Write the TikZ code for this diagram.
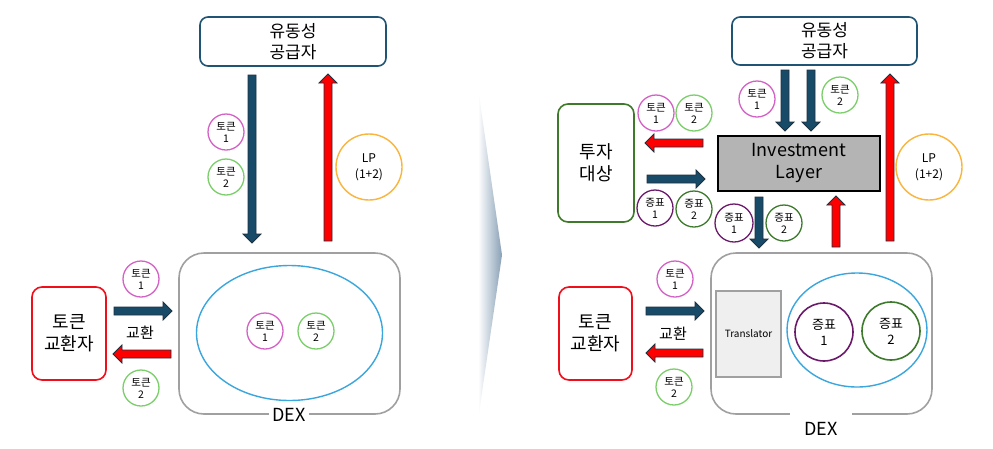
\documentclass[tikz,border=0pt]{standalone}
\usepackage{fontspec}
\setmainfont{Noto Sans CJK KR}
\usetikzlibrary{calc,shapes.geometric}
\definecolor{navy}{HTML}{1F5474}
\definecolor{arrowblue}{HTML}{184B68}
\definecolor{arrowedge}{HTML}{1E3140}
\definecolor{tokone}{HTML}{D462C6}
\definecolor{toktwo}{HTML}{7BCF6A}
\definecolor{lporange}{HTML}{F9B53C}
\definecolor{dexgrey}{HTML}{A0A0A0}
\definecolor{ellblue}{HTML}{3AA6DD}
\definecolor{exred}{HTML}{F20D1A}
\definecolor{invgreen}{HTML}{3F7A2B}
\definecolor{jpone}{HTML}{6B1A6B}
\definecolor{jptwo}{HTML}{3D7A2C}
\definecolor{layergrey}{HTML}{B4B4B4}
\definecolor{transgrey}{HTML}{EFEFEF}
\definecolor{sepblue}{HTML}{88A0B6}
\newcommand\blockarrow[3]{%
  \coordinate (ba-h) at ($(#3)!9pt!(#2)$);
  \filldraw[#1] ($(#2)!4pt!90:(#3)$) -- ($(ba-h)!4pt!90:(#3)$) -- ($(ba-h)!9pt!90:(#3)$) -- (#3)
    -- ($(ba-h)!9pt!-90:(#3)$) -- ($(ba-h)!4pt!-90:(#3)$) -- ($(#2)!4pt!-90:(#3)$) -- cycle;
}
\tikzset{
  bluearrow/.style={fill=arrowblue, draw=arrowedge, line width=0.8pt, line join=miter},
  redarrow/.style={fill=red, draw=arrowedge, line width=0.8pt, line join=miter},
  bigbox/.style={draw, rounded corners=8pt, line width=1.6pt, align=center, inner sep=0pt,
    font=\fontsize{17}{21}\selectfont},
  tok/.style={circle, draw, line width=1.3pt, minimum size=36pt, inner sep=0pt, align=center,
    font=\fontsize{10.5}{12}\selectfont},
  tokone/.style={tok, draw=tokone},
  toktwo/.style={tok, draw=toktwo},
  jpbig/.style={circle, draw, line width=1.6pt, minimum size=58pt, inner sep=0pt, align=center,
    font=\fontsize{13}{16}\selectfont},
  lp/.style={circle, draw=lporange, line width=1.4pt, minimum size=66pt, inner sep=0pt, align=center,
    font=\fontsize{12}{16}\selectfont},
  dexbox/.style={draw=dexgrey, rounded corners=25pt, line width=1.6pt, inner sep=0pt},
  pool/.style={ellipse, draw=ellblue, line width=1.4pt, inner sep=0pt},
  exbox/.style={draw=exred, rounded corners=10pt, line width=1.6pt, align=center, inner sep=0pt,
    font=\fontsize{18}{22}\selectfont},
  lbl/.style={font=\fontsize{15}{18}\selectfont, inner sep=0pt},
  dexlbl/.style={font=\fontsize{18}{20}\selectfont, inner sep=3pt}
}
\begin{document}
\begin{tikzpicture}[x=1pt,y=-1pt]
\useasboundingbox (0,0) rectangle (993,448);
\fill[white] (0,0) rectangle (993,448);
% separator
\shade[left color=white, right color=sepblue] (478,88) -- (502,255) -- (478,420) -- cycle;

%%%%% LEFT PANEL
\node[bigbox, draw=navy, minimum width=186pt, minimum height=49pt] (lpA) at (293,41.5) {유동성\\공급자};
\node[dexbox, minimum width=221pt, minimum height=161pt] (dexA) at (289.5,333.5) {};
\node[pool, minimum width=186pt, minimum height=135pt] (poolA) at (289.5,333) {};
\node[tokone] (ptA1) at (265,331) {토큰\\1};
\node[toktwo] (ptA2) at (316,331) {토큰\\2};
\node[dexlbl, fill=white] (dexlA) at (289,415) {DEX};
\coordinate (dnA1) at (252,75);
\coordinate (dnA2) at (252,243);
\blockarrow{bluearrow}{dnA1}{dnA2}
\coordinate (upA1) at (328,241);
\coordinate (upA2) at (328,74);
\blockarrow{redarrow}{upA1}{upA2}
\node[tokone] (tA1) at (226,132) {토큰\\1};
\node[toktwo] (tA2) at (226,177) {토큰\\2};
\node[lp] (lpcA) at (369,167) {LP\\(1+2)};
\node[exbox, minimum width=74pt, minimum height=93pt] (exA) at (69,333.5) {토큰\\교환자};
\coordinate (rA1) at (114,311);
\coordinate (rA2) at (172,311);
\blockarrow{bluearrow}{rA1}{rA2}
\coordinate (lA1) at (171,354);
\coordinate (lA2) at (113,354);
\blockarrow{redarrow}{lA1}{lA2}
\node[lbl] (swA) at (140,333) {교환};
\node[tokone] (etA1) at (141,279) {토큰\\1};
\node[toktwo] (etA2) at (141,388) {토큰\\2};

%%%%% RIGHT PANEL
\node[bigbox, draw=navy, minimum width=185pt, minimum height=48pt] (lpB) at (824.5,41) {유동성\\공급자};
\coordinate (dnB1) at (785,70);
\coordinate (dnB2) at (785,131);
\blockarrow{bluearrow}{dnB1}{dnB2}
\coordinate (dnB3) at (811,70);
\coordinate (dnB4) at (811,131);
\blockarrow{bluearrow}{dnB3}{dnB4}
\node[tokone] (tB1) at (757,99) {토큰\\1};
\node[toktwo] (tB2) at (840,95) {토큰\\2};
\coordinate (upB1) at (890,241);
\coordinate (upB2) at (890,74);
\blockarrow{redarrow}{upB1}{upB2}
\node[lp] (lpcB) at (929,167) {LP\\(1+2)};
\node[draw=black, fill=layergrey, line width=1.8pt, minimum width=162pt, minimum height=55pt,
  align=center, inner sep=0pt, font=\fontsize{18}{22}\selectfont] (layer) at (799,163.5) {Investment\\Layer};
\node[bigbox, draw=invgreen, rounded corners=10pt, minimum width=76pt, minimum height=118pt,
  font=\fontsize{18}{22}\selectfont] (target) at (596,163) {투자\\대상};
\coordinate (tl1) at (703,143);
\coordinate (tl2) at (645,143);
\blockarrow{redarrow}{tl1}{tl2}
\coordinate (tr1) at (647,179);
\coordinate (tr2) at (705,179);
\blockarrow{bluearrow}{tr1}{tr2}
\node[tokone] (itB1) at (656,113) {토큰\\1};
\node[toktwo] (itB2) at (694,113) {토큰\\2};
\node[tok, draw=jpone] (ijB1) at (655,208) {증표\\1};
\node[tok, draw=jptwo] (ijB2) at (694,209) {증표\\2};
\node[tok, draw=jpone, minimum size=38pt] (ljB1) at (734,223) {증표\\1};
\node[tok, draw=jptwo] (ljB2) at (784,223) {증표\\2};
\coordinate (ld1) at (759,197);
\coordinate (ld2) at (759,248);
\blockarrow{bluearrow}{ld1}{ld2}
\coordinate (lu1) at (836,247);
\coordinate (lu2) at (836,196);
\blockarrow{redarrow}{lu1}{lu2}
\node[dexbox, minimum width=221pt, minimum height=161pt] (dexB) at (821.5,333.5) {};
\fill[white] (790,409) rectangle (852,419);
\node[dexlbl] (dexlB) at (821,429) {DEX};
\node[draw=dexgrey, fill=transgrey, line width=1.6pt, minimum width=65pt, minimum height=86pt,
  inner sep=0pt, font=\fontsize{10}{12}\selectfont] (trans) at (748.5,334) {Translator};
\node[pool, minimum width=140pt, minimum height=114pt] (poolB) at (857,330) {};
\node[jpbig, draw=jpone] (pjB1) at (824,332) {증표\\1};
\node[jpbig, draw=jptwo] (pjB2) at (891,331) {증표\\2};
\node[exbox, minimum width=73pt, minimum height=93pt] (exB) at (595.5,333.5) {토큰\\교환자};
\coordinate (rB1) at (646,311);
\coordinate (rB2) at (704,311);
\blockarrow{bluearrow}{rB1}{rB2}
\coordinate (lB1) at (703,353);
\coordinate (lB2) at (646,353);
\blockarrow{redarrow}{lB1}{lB2}
\node[lbl] (swB) at (673,334) {교환};
\node[tokone] (etB1) at (675,279) {토큰\\1};
\node[toktwo] (etB2) at (674,387) {토큰\\2};
\end{tikzpicture}
\end{document}
